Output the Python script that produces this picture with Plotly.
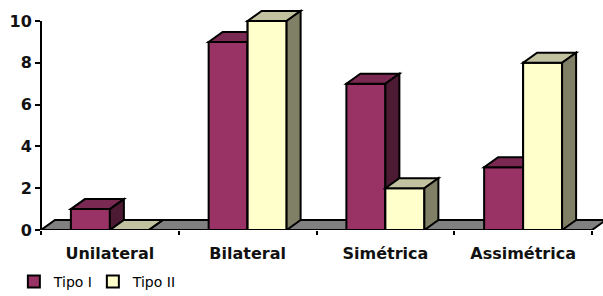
import plotly.graph_objects as go

# ---- data ----
categories = ["Unilateral", "Bilateral", "Simétrica", "Assimétrica"]
tipo_i = [1, 9, 7, 3]
tipo_ii = [0, 10, 2, 8]
series_names = ["Tipo I", "Tipo II"]
y_ticks = [0, 2, 4, 6, 8, 10]

# ---- styling ----
W, H = 603, 296
ML, MR, MT, MB = 41, 0, 5, 66
PX_PER_CAT = 137.75
PX_PER_UNIT = 20.9
DEPTH_X_PX, DEPTH_Y_PX = 14, 10
BAR_GAP = 0.434

plot_w = W - ML - MR
plot_h = H - MT - MB
x_range = [-0.5, -0.5 + plot_w / PX_PER_CAT]
y_range = [0, plot_h / PX_PER_UNIT]
dx = DEPTH_X_PX / PX_PER_CAT
dy = DEPTH_Y_PX / PX_PER_UNIT
bw = (1 - BAR_GAP) / 2

C1 = dict(front="#993366", top="#7a2952", side="#4d1a33")
C2 = dict(front="#ffffcc", top="#c2c2a0", side="#808066")
FLOOR = "#808080"
LW = 2

fig = go.Figure()
fig.add_bar(x=categories, y=tipo_i, name=series_names[0], legend="legend",
            marker=dict(color=C1["front"], line=dict(color="black", width=LW)))
fig.add_bar(x=categories, y=tipo_ii, name=series_names[1], legend="legend2",
            marker=dict(color=C2["front"], line=dict(color="black", width=LW)))


def poly(pts, fill, layer="above"):
    p = "M " + " L ".join(f"{x},{y}" for x, y in pts) + " Z"
    return dict(type="path", path=p, xref="x", yref="y", fillcolor=fill,
                line=dict(color="black", width=LW), layer=layer)


shapes = []
n = len(categories)
# floor
shapes.append(poly([(-0.5, 0), (n - 0.5, 0), (n - 0.5 + dx, dy), (-0.5 + dx, dy)], FLOOR, "below"))

for i in range(n):
    for k, (vals, col) in enumerate([(tipo_i, C1), (tipo_ii, C2)]):
        x0 = i - bw + k * bw
        x1 = x0 + bw
        v = vals[i]
        if k == 1:
            # redraw front face so it hides the neighbour's faces
            shapes.append(poly([(x0, 0), (x1, 0), (x1, v), (x0, v)], col["front"]))
        shapes.append(poly([(x0, v), (x1, v), (x1 + dx, v + dy), (x0 + dx, v + dy)], col["top"]))
        shapes.append(poly([(x1, 0), (x1 + dx, dy), (x1 + dx, v + dy), (x1, v)], col["side"]))

# y axis line from 0 to max tick
shapes.append(dict(type="line", xref="paper", yref="y", x0=0, x1=0, y0=0, y1=max(y_ticks),
                   line=dict(color="black", width=LW)))

legend_common = dict(orientation="h", xref="container", yref="container",
                     y=0.1014, xanchor="left", yanchor="top",
                     font=dict(family="DejaVu Sans", size=14, color="black"),
                     itemclick=False, itemdoubleclick=False)

fig.update_layout(
    width=W, height=H,
    margin=dict(l=ML, r=MR, t=MT, b=MB),
    paper_bgcolor="white", plot_bgcolor="white",
    barmode="group", bargap=BAR_GAP, bargroupgap=0,
    shapes=shapes,
    showlegend=True,
    legend=dict(x=0.023, **legend_common),
    legend2=dict(x=0.154, **legend_common),
    xaxis=dict(type="category", range=x_range, tickson="boundaries",
               ticks="outside", ticklen=4, tickwidth=LW, tickcolor="black",
               ticklabelstandoff=12,
               showgrid=False, zeroline=False, showline=False,
               tickfont=dict(family="DejaVu Sans", size=16, color="#111", weight="bold")),
    yaxis=dict(range=y_range, tickvals=y_ticks, ticks="outside", ticklen=5,
               tickwidth=LW, tickcolor="black", showgrid=False, zeroline=False,
               showline=False,
               tickfont=dict(family="DejaVu Sans", size=16, color="#111", weight="bold")),
)

fig.write_html("out.html", config={"displayModeBar": False},
               post_script="document.body.style.margin='0';")
